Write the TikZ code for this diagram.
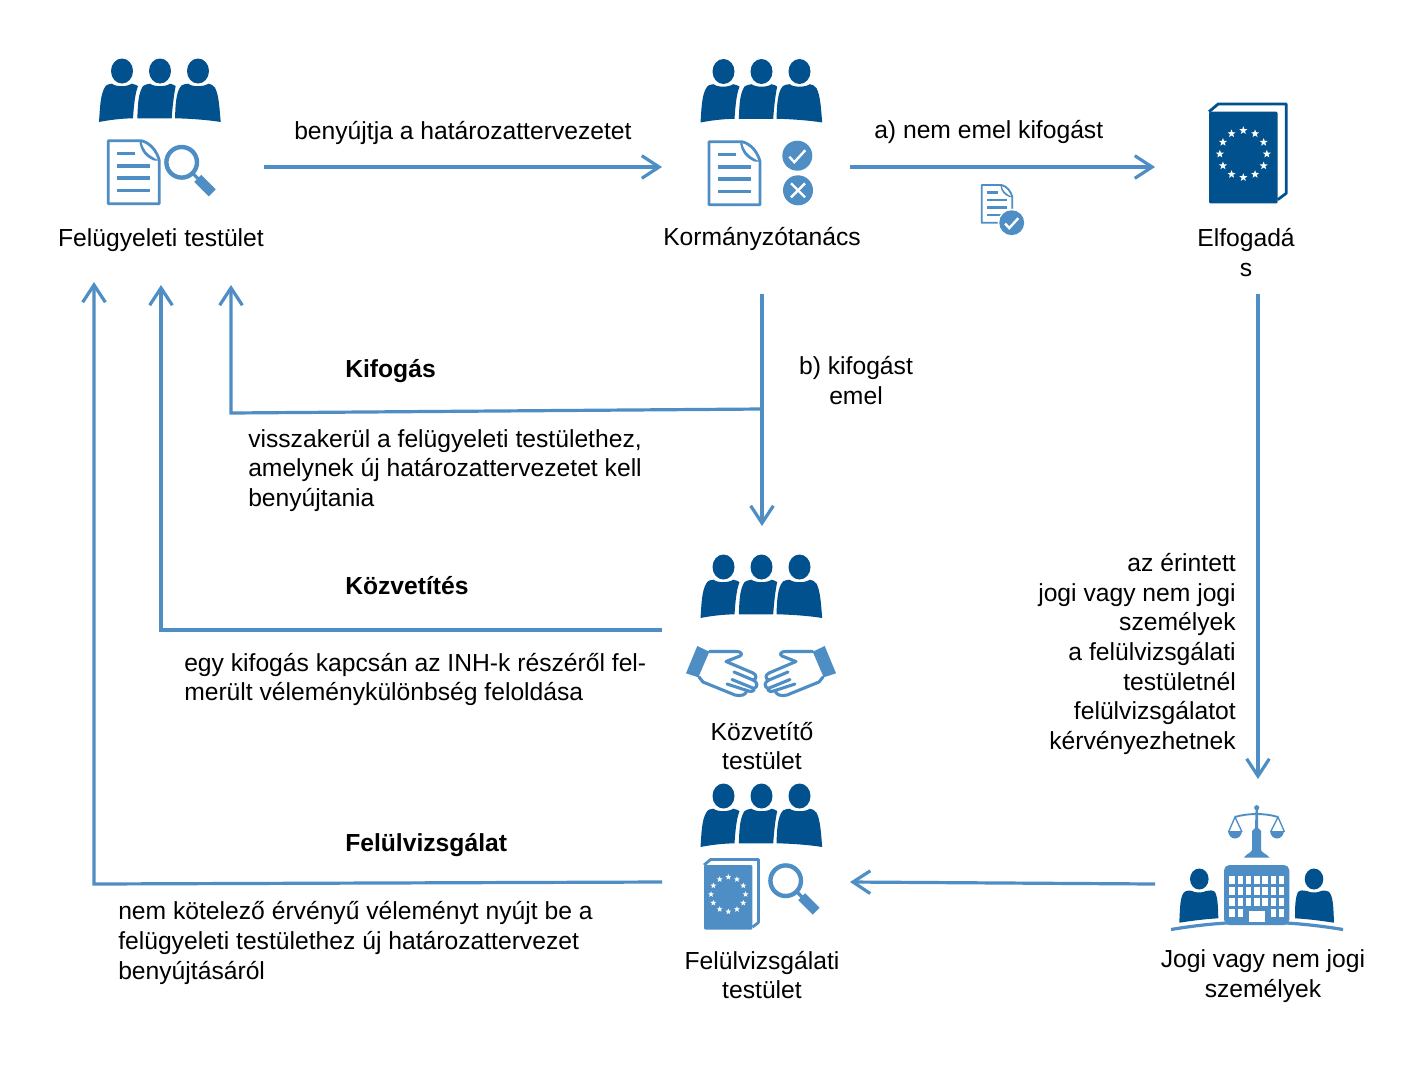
\documentclass[tikz,border=0pt]{standalone}
\usepackage{fontspec}
\setmainfont{Liberation Sans}
\usetikzlibrary{arrows.meta}
\definecolor{dkb}{HTML}{00518E}
\definecolor{ltb}{HTML}{4F8EC4}
\newcommand{\eustars}[2]{%
  \foreach \a in {0,30,...,330}{%
    \begin{scope}[shift={(\a:#1)}]
      \fill[white] (-90:#2)--(-54:.42*#2)--(-18:#2)--(18:.42*#2)--(54:#2)--(90:.42*#2)--(126:#2)--(162:.42*#2)--(198:#2)--(234:.42*#2)--cycle;
    \end{scope}}}
\tikzset{
  conn/.style={draw=ltb,line width=2.4pt,line join=miter},
  arr/.style={conn,-{Straight Barb[length=13pt,width=17pt,line width=2.4pt]}},
  txt/.style={font=\fontsize{18.5}{22.2}\selectfont,text=black,inner sep=0pt},
  ltxt/.style={txt,anchor=west,align=left},
  rtxt/.style={txt,anchor=east,align=right},
  ctxt/.style={txt,anchor=center,align=center},
  btxt/.style={ltxt,font=\fontsize{18.5}{22.2}\selectfont\bfseries},
  pics/people/.style={code={
    \fill[dkb] (23,12) ellipse (11 and 12.5) (61,12) ellipse (11 and 12.5) (99,12) ellipse (11 and 12.5);
    \fill[dkb] (0,63) .. controls (1,50) and (1,36) .. (6,28) .. controls (8,25) and (11,25) .. (13,24.7)
      .. controls (17,28) and (28,28) .. (32.7,24.7) .. controls (35,25) and (37,26) .. (39,27)
      .. controls (36,35) and (35,45) .. (34,59.3) .. controls (22,59.5) and (10,61) .. (0,63) -- cycle;
    \fill[dkb] (38.3,59.3) .. controls (39,45) and (39,35) .. (44,27) .. controls (46,25.5) and (49,25) .. (51,24.7)
      .. controls (55,28) and (67,28) .. (71,24.7) .. controls (73,25) and (75,26) .. (76.7,27)
      .. controls (75,35) and (73.5,47) .. (72.7,59.3) -- cycle;
    \fill[dkb] (76,59.3) .. controls (76.5,45) and (77,32) .. (82.7,26.3) .. controls (85,25) and (87,25) .. (89.3,24.7)
      .. controls (93,28) and (105,28) .. (109.3,24.7) .. controls (112,25) and (114,26) .. (116,28.7)
      .. controls (120,36) and (120.5,50) .. (121.7,63) .. controls (110,61) and (90,59.5) .. (76,59.3) -- cycle;
  }},
  pics/docicon/.style={code={
    \draw[ltb,line width=#1,line join=round] (0,0) -- (33,0) .. controls (42,2) and (49,11) .. (51,20) -- (51,63) -- (0,63) -- cycle;
    \fill[ltb] (33,0) .. controls (35,9) and (37,13) .. (51,20) -- (46,20) .. controls (38,17) and (32,11) .. (31,0) -- cycle;
    \draw[ltb,line width=1.35*#1] (9,12.7) -- (27,12.7) (9,25) -- (42,25) (9,37.3) -- (42,37.3) (9,49.7) -- (42,49.7);
  }},
  pics/magnifier/.style={code={
    \draw[ltb,line width=3.3pt] (0,0) circle (15.3);
    \draw[ltb,line width=2.4pt] (11,11) -- (17,17);
    \draw[ltb,line width=7.4pt] (16,16) -- (30.5,30.5);
  }},
  pics/checkcirc/.style={code={
    \fill[ltb] (0,0) circle (15);
    \draw[white,line width=1.8pt] (-8,1) -- (-3,6.5) -- (8,-5.5);
  }},
  pics/xcirc/.style={code={
    \fill[ltb] (0,0) circle (15);
    \draw[white,line width=1.8pt] (-7,-7) -- (7,7) (-7,7) -- (7,-7);
  }},
  pics/bookicon/.style={code={
    \fill[#1,rounded corners=1pt] (0,0) rectangle (68.7,91.7);
    \draw[#1,line width=2.1pt,line join=round] (0,0) -- (9.3,-7.8) -- (77.2,-7.8) -- (77.2,81.6) -- (68.7,88);
  }},
  pics/bookstars/.style={code={\eustars{23.5}{4.2}}},
  pics/hand/.style={code={
    \fill[ltb] (27.3,16) -- (39.3,21.7) -- (28.3,47.3) -- (16,43.3) -- cycle;
    \draw[ltb,line width=2.3pt,line join=round,line cap=round]
      (39.5,21.5) -- (67,21.5) .. controls (71,21.5) and (73,24.5) .. (70,26) -- (56,31.5) -- (83,43)
      .. controls (87,45) and (87,49) .. (83,50) -- (64,42)
      (83,50) .. controls (88,52) and (88,57) .. (84,58.5) -- (62,49.5)
      (84,58.5) .. controls (85,61) and (81,62.5) .. (77,60.5) -- (57,54)
      (77,60.5) .. controls (76,65) and (71,66.5) .. (65,65) -- (33,52) -- (29,47);
  }},
  pics/lawicon/.style={code={
    % scale
    \fill[ltb] (96.7,12.7) circle (2.6);
    \fill[ltb] (95.6,12.7) -- (97.8,12.7) -- (98.2,33) -- (101,36) -- (101,55) .. controls (102,58) and (107,59) .. (109.5,62.5)
      -- (84,62.5) .. controls (86,59) and (91,58) .. (92,55) -- (92,36) -- (95,33) -- cycle;
    \draw[ltb,line width=1.4pt] (75,22) .. controls (88,18) and (105,18) .. (118,22);
    \draw[ltb,line width=1pt] (68.5,37) -- (75,22) -- (82,37) (110.5,37) -- (118,22) -- (124.5,37);
    \fill[ltb] (68,36) .. controls (69,46) and (81,46) .. (82,36) -- cycle;
    \fill[ltb] (110,36) .. controls (111,46) and (123,46) .. (124,36) -- cycle;
    % building
    \fill[ltb,rounded corners=4pt] (64,70) rectangle (129.3,130);
    \foreach \cx in {69.3,77.7,86,94.3,102.3,110.7,119}{\foreach \ry in {81,91.7,102.7}{
      \fill[white] (\cx,\ry) rectangle ++(5.3,8);}}
    \foreach \cx in {69.3,77.7,110.7,119}{\fill[white] (\cx,114) rectangle ++(5.3,8);}
    % people
    \fill[dkb] (39.3,84) ellipse (9.3 and 10.5) (154,84) ellipse (9.3 and 10.5);
    \fill[dkb] (19.3,127.7) .. controls (20,112) and (20,100) .. (25,96.5) .. controls (29,95) and (31,95.5) .. (32,96)
      .. controls (35,98) and (43,98) .. (46,96) .. controls (49,95) and (53,95) .. (55,97) .. controls (58,103) and (58,113) .. (58.3,123.3) .. controls (45,124) and (30,126) .. (19.3,127.7) -- cycle;
    \fill[dkb] (174,127.7) .. controls (173.3,112) and (173.3,100) .. (168.3,96.5) .. controls (164,95) and (162,95.5) .. (161,96)
      .. controls (158,98) and (150,98) .. (147,96) .. controls (144,95) and (140,95) .. (138,97) .. controls (135,103) and (135,113) .. (135,123.3) .. controls (148,124) and (163,126) .. (174,127.7) -- cycle;
    % ground
    \draw[ltb,line width=2.4pt] (11,134.5) .. controls (40,129.5) and (70,127) .. (96.7,127) .. controls (123,127) and (153,129.5) .. (183,134.5);
    \fill[white] (88.7,115.7) rectangle (105,127.3);
  }}
}
\begin{document}
\begin{tikzpicture}[x=0.75pt,y=-0.75pt]
\useasboundingbox (0,0) rectangle (1416,1082);
\fill[white] (0,0) rectangle (1416,1082);

% free ends of connectors
\coordinate (a1s) at (264,167); \coordinate (a1e) at (662,167);
\coordinate (a2s) at (850,167); \coordinate (a2e) at (1155,167);
\coordinate (a3s) at (762,294); \coordinate (a3e) at (762,526);
\coordinate (a4s) at (762,409); \coordinate (a4b) at (231,413); \coordinate (a4e) at (231,285);
\coordinate (a5s) at (662,630); \coordinate (a5b) at (161,630); \coordinate (a5e) at (161,285);
\coordinate (a6s) at (662,882); \coordinate (a6b) at (94,884); \coordinate (a6e) at (94,282);
\coordinate (a7s) at (1258,294); \coordinate (a7e) at (1258,779);
\coordinate (a8s) at (1155,884); \coordinate (a8e) at (850,882);

\draw[arr] (a1s) -- (a1e);
\draw[arr] (a2s) -- (a2e);
\draw[arr] (a3s) -- (a3e);
\draw[arr] (a4s) -- (a4b) -- (a4e);
\draw[arr] (a5s) -- (a5b) -- (a5e);
\draw[arr] (a6s) -- (a6b) -- (a6e);
\draw[arr] (a7s) -- (a7e);
\draw[arr] (a8s) -- (a8e);

% icons
\pic at (99,59) {people};
\pic at (108.3,140.7) {docicon=2.1pt};
\pic at (181.7,162.3) {magnifier};

\pic at (700.5,59.5) {people};
\pic at (709,141.7) {docicon=2.1pt};
\pic at (797.3,155.7) {checkcirc};
\pic at (798,190.3) {xcirc};

\pic[scale=.6] at (981.7,185) {docicon=1.4pt};
\fill[white] (1011.7,222.7) circle (14);
\pic[scale=.83] at (1011.7,222.7) {checkcirc};

\pic at (1209,111.7) {bookicon=dkb};
\pic at (1243.3,154) {bookstars};

\pic at (700.5,555) {people};
\pic at (670,630) {hand};
\pic[xscale=-1] at (852,630) {hand};

\pic at (700.5,784) {people};
\pic[scale=.705] at (704,865) {bookicon=ltb};
\pic[scale=.735] at (728.3,894.3) {bookstars};
\pic at (785.7,880.7) {magnifier};

\pic at (1160,795) {lawicon};

% labels
\node[ltxt] (t1) at (294,133) {benyújtja a határozattervezetet};
\node[ltxt] (t2) at (874,132) {a) nem emel kifogást};
\node[ctxt] (t3) at (161,240) {Felügyeleti testület};
\node[ctxt] (t4) at (762,239) {Kormányzótanács};
\node[ctxt] (t5) at (1246,252.5) {Elfogadá\\s};
\node[btxt] (t6) at (345,371) {Kifogás};
\node[ctxt] (t7) at (856,380.5) {b) kifogást\\emel};
\node[ltxt] (t8) at (248,470.5) {visszakerül a felügyeleti testülethez,\\amelynek új határozattervezetet kell\\benyújtania};
\node[btxt] (t9) at (345,586) {Közvetítés};
\node[ltxt] (t10) at (184,679.5) {egy kifogás kapcsán az INH-k részéről fel-\\merült véleménykülönbség feloldása};
\node[ctxt] (t11) at (762,746) {Közvetítő\\testület};
\node[btxt] (t12) at (345,845) {Felülvizsgálat};
\node[ltxt] (t13) at (118,943) {nem kötelező érvényű véleményt nyújt be a\\felügyeleti testülethez új határozattervezet\\benyújtásáról};
\node[ctxt] (t14) at (762,975) {Felülvizsgálati\\testület};
\node[ctxt] (t15) at (1263,976) {Jogi vagy nem jogi\\személyek};
\node[rtxt] (t16) at (1236,654) {az érintett\\jogi vagy nem jogi\\személyek\\a felülvizsgálati\\testületnél\\felülvizsgálatot\\kérvényezhetnek};
\end{tikzpicture}
\end{document}
